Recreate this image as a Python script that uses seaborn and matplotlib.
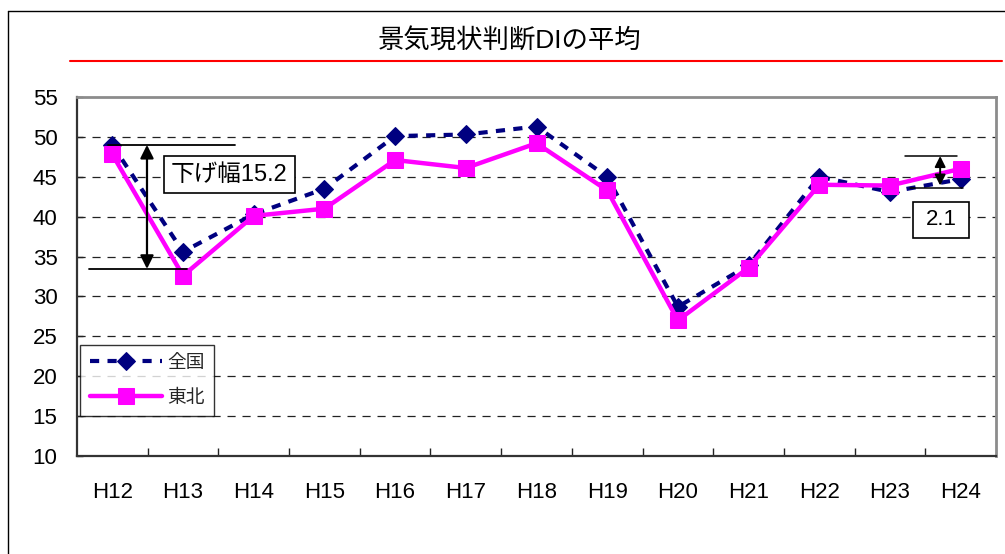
import matplotlib
matplotlib.use("Agg")
import matplotlib.pyplot as plt
import seaborn as sns
import numpy as np
from matplotlib.lines import Line2D
from matplotlib.patches import Rectangle

categories = ["H12", "H13", "H14", "H15", "H16", "H17", "H18",
              "H19", "H20", "H21", "H22", "H23", "H24"]
zenkoku = [49.0, 35.6, 40.3, 43.5, 50.1, 50.3, 51.3, 45.0, 28.7, 33.9, 45.0, 43.1, 44.7]
tohoku = [47.8, 32.6, 40.1, 41.0, 47.1, 46.1, 49.2, 43.3, 27.0, 33.6, 44.0, 43.9, 46.0]
series_labels = ["全国", "東北"]
title = "景気現状判断DIの平均"
note_drop = "下げ幅15.2"
note_rise = "2.1"
yticks = [10, 15, 20, 25, 30, 35, 40, 45, 50, 55]

sns.set_theme(style="white")
plt.rcParams["font.family"] = ["Liberation Sans", "Noto Sans CJK JP"]

fig = plt.figure(figsize=(10.05, 5.54), dpi=100)
ax = fig.add_axes([77/1005, 1-456/554, (996-77)/1005, (456-97)/554])

x = np.arange(len(categories))
sns.lineplot(x=x, y=zenkoku, ax=ax, color="#000080", lw=3,
             linestyle=(0, (2.2, 2.0)), marker="D", markersize=9.5,
             markeredgecolor="#000080", label=series_labels[0], zorder=3)
sns.lineplot(x=x, y=tohoku, ax=ax, color="#FF00FF", lw=3.2,
             marker="s", markersize=12, markeredgecolor="#FF00FF",
             label=series_labels[1], zorder=4)

ax.set_xlim(-0.5, len(categories) - 0.5)
ax.set_ylim(10, 55)
ax.set_yticks(yticks)
ax.set_xticks(x)
ax.set_xticklabels(categories)
ax.set_xticks(np.arange(0.5, len(categories) - 1, 1.0), minor=True)
ax.tick_params(axis="x", which="major", length=0, pad=19, labelsize=16, colors="black")
ax.tick_params(axis="x", which="minor", direction="in", length=6, width=1, color="#222222", bottom=True)
ax.tick_params(axis="y", which="major", direction="in", length=4, width=1, pad=14,
               labelsize=16, color="#222222", left=True, labelcolor="black")
ax.set_xlabel("")
ax.set_ylabel("")

for yv in yticks[1:-1]:
    ax.axhline(yv, color="#222222", lw=0.9, linestyle=(0, (6.5, 5.5)), zorder=1)

for side in ["left", "bottom"]:
    ax.spines[side].set_color("#333333")
    ax.spines[side].set_linewidth(1.6)
for side in ["top", "right"]:
    ax.spines[side].set_color("#8c8c8c")
    ax.spines[side].set_linewidth(2.0)
    ax.spines[side].set_visible(True)

leg = ax.legend(loc="upper left", bbox_to_anchor=(0.0035, 0.309), borderaxespad=0,
                frameon=True, fancybox=False, edgecolor="black", fontsize=13.5,
                handlelength=3.85, handletextpad=0.28, borderpad=0.5,
                labelspacing=0.95, numpoints=1)
leg.get_frame().set_linewidth(1.0)
leg.get_frame().set_facecolor("white")
leg.set_zorder(6)

# annotation: drop width
k = "black"
ax.plot([-0.06, 1.735], [49.0, 49.0], color=k, lw=1.3, zorder=5)
ax.plot([-0.33, 1.06], [33.45, 33.45], color=k, lw=1.3, zorder=5)
ax.annotate("", xy=(0.49, 33.45), xytext=(0.49, 49.0),
            arrowprops=dict(arrowstyle="<|-|>", color=k, lw=1.6, mutation_scale=20,
                            shrinkA=0, shrinkB=0), zorder=5)
ax.add_patch(Rectangle((0.731, 42.97), 2.584 - 0.731, 47.6 - 42.97,
                       facecolor="white", edgecolor=k, lw=1.2, zorder=5))
ax.text((0.731 + 2.584) / 2, (42.97 + 47.6) / 2, note_drop, ha="center", va="center",
        fontsize=17, color=k, zorder=6)

# annotation: rise
ax.plot([11.213, 11.949], [47.6, 47.6], color=k, lw=1.1, zorder=5)
ax.plot([11.28, 12.03], [43.6, 43.6], color=k, lw=1.1, zorder=5)
ax.annotate("", xy=(11.71, 43.9), xytext=(11.71, 47.6),
            arrowprops=dict(arrowstyle="<|-|>", color=k, lw=1.4, mutation_scale=16,
                            shrinkA=0, shrinkB=0), zorder=5)
ax.add_patch(Rectangle((11.326, 37.33), 12.118 - 11.326, 41.84 - 37.33,
                       facecolor="white", edgecolor=k, lw=1.2, zorder=5))
ax.text((11.326 + 12.118) / 2, (37.33 + 41.84) / 2, note_rise, ha="center", va="center",
        fontsize=16, color=k, zorder=6)

# title and decorations
fig.text(510/1005, 1 - 41/554, title, ha="center", va="center", fontsize=19, color="black")
fig.add_artist(Line2D([70/1005, 1002/1005], [1 - 60.5/554, 1 - 60.5/554],
                      color="red", lw=1.5, transform=fig.transFigure))
fig.add_artist(Line2D([7.5/1005, 1.0], [1 - 11/554, 1 - 11/554],
                      color="black", lw=1.0, transform=fig.transFigure))
fig.add_artist(Line2D([7.5/1005, 7.5/1005], [0.0, 1 - 11/554],
                      color="black", lw=1.0, transform=fig.transFigure))

fig.savefig("out.png", dpi=100, facecolor="white")
